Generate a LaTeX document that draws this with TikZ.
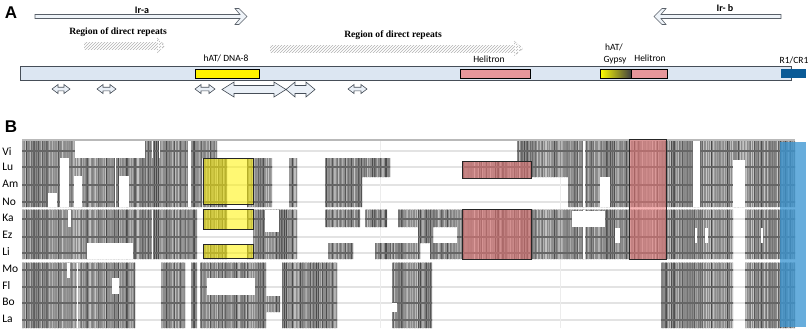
\documentclass[tikz,border=0pt]{standalone}
\usepackage{fontspec}
\setmainfont{Carlito}
\newfontfamily\repfont{Liberation Serif}
\newfontfamily\panelfont{Liberation Sans}
\usetikzlibrary{patterns}
\definecolor{barfill}{RGB}{220,230,242}
\definecolor{barline}{RGB}{70,78,88}
\definecolor{helipink}{RGB}{230,150,155}
\definecolor{helialn}{RGB}{240,120,120}
\definecolor{crblue}{RGB}{10,90,150}
\definecolor{alnblue}{RGB}{60,150,210}
\tikzset{every picture/.style={line width=0.75pt}}

\begin{document}
\begin{tikzpicture}[x=1pt,y=-1pt,
    panel/.style={font=\panelfont\bfseries\fontsize{17}{17}\selectfont, inner sep=0},
    seqlab/.style={anchor=west, font=\fontsize{11.5}{12}\selectfont, inner sep=0},
    telab/.style={font=\fontsize{9.5}{11}\selectfont, inner sep=0},
    replab/.style={font=\repfont\bfseries\fontsize{9.6}{12}\selectfont, inner sep=0},
    irlab/.style={font=\bfseries\fontsize{10}{12}\selectfont, inner sep=0},
    irarrow/.style={draw=barline!90, fill=barfill!45, line width=0.6pt},
    hatcharrow/.style={pattern=north east lines, pattern color=gray!60},
    hatchhead/.style={draw=gray!60, dashed, line width=0.4pt, pattern=north east lines, pattern color=gray!60},
    tebox/.style={draw=black, line width=0.6pt},
    dblarrow/.style={draw=barline, fill=barfill!60, line width=0.6pt},
    rowline/.style={gray!22, line width=1.6pt},
    hole/.style={fill=white, draw=none},
    alnbox/.style={draw=black!85, line width=0.7pt, fill opacity=0.55}]
\useasboundingbox (0,0) rectangle (809,333);

% ---- panel A
\node[panel] (pa) at (11,13) {A};
\node[irlab] (ira) at (142,10) {Ir-a};
\node[irlab] (irb) at (725,8) {Ir- b};
\draw[irarrow] (35,14.5) -- (240,14.5) -- (235,8.5) -- (239,8.5) -- (247,16.5)
    -- (239,24.5) -- (235,24.5) -- (240,18.5) -- (35,18.5) -- cycle;
\draw[irarrow] (781,14.5) -- (661,14.5) -- (666,8.5) -- (662,8.5) -- (654,16.5)
    -- (662,24.5) -- (666,24.5) -- (661,18.5) -- (781,18.5) -- cycle;

\node[replab] (rep1) at (118,32) {Region of direct repeats};
\node[replab] (rep2) at (393,35) {Region of direct repeats};
\fill[hatcharrow] (84,42) rectangle (157,49);
\draw[hatchhead] (157,38) -- (165,45.5) -- (157,53);
\fill[hatcharrow] (270,45) rectangle (514,52);
\draw[hatchhead] (514,41) -- (523,48.5) -- (514,56);

% chromosome bar
\draw[draw=barline, fill=barfill] (20,66) rectangle (791,80);
\draw[tebox, fill=yellow] (195,69) rectangle (259,78);
\draw[tebox, fill=helipink] (460,69) rectangle (530,78);
\shade[left color=yellow, right color=black!75] (600,69) rectangle (631,78);
\draw[tebox] (600,69) rectangle (631,78);
\draw[tebox, fill=helipink] (631,69) rectangle (667,78);
\fill[crblue] (781,69) rectangle (806,78);

\node[telab] (dna8) at (226,58) {hAT/ DNA-8};
\node[telab] (heli1) at (489,59) {Helitron};
\node[telab] (hat) at (614,47) {hAT/};
\node[telab] (gyp) at (615,60) {Gypsy};
\node[telab] (heli2) at (650,58) {Helitron};
\node[telab] (r1) at (794,60) {R1/CR1};

% inverted/direct repeat arrows under the bar
\foreach \xa/\xb/\yc/\hs/\hh/\hl in {52/70/89/1.8/4.5/6, 97/116/89/1.8/4.5/6,
    195/215/89/1.8/4.5/6, 348/367/89/1.8/4.5/6,
    222/286/89.5/4/7.5/12, 286/315/89.5/4/7.5/9}
  \draw[dblarrow] (\xa,\yc) -- (\xa+\hl,\yc-\hh) -- (\xa+\hl,\yc-\hs) -- (\xb-\hl,\yc-\hs)
      -- (\xb-\hl,\yc-\hh) -- (\xb,\yc) -- (\xb-\hl,\yc+\hh) -- (\xb-\hl,\yc+\hs)
      -- (\xa+\hl,\yc+\hs) -- (\xa+\hl,\yc+\hh) -- cycle;

% ---- panel B
\node[panel] (pb) at (11,127) {B};
\foreach \nm/\yy in {Vi/152, Lu/167, Am/184, No/202, Ka/218, Ez/235,
    Li/252, Mo/269, Fl/286, Bo/302, La/319}
  \node[seqlab] (lab\nm) at (2,\yy) {\nm};

\draw[gray!55, line width=2pt] (22,139.5) -- (795,139.5);
\foreach \yy in {151,167,185,202,219,237,253,270,287,303,320}
  \draw[rowline] (22,\yy) -- (795,\yy);
\draw[gray!15] (380,141) -- (380,328) (560,141) -- (560,328);

% aligned blocks
\begin{scope}
\clip \foreach \xa/\ya/\xb/\yb in {
    22/141/202/207, 202/141/217/158, 203/158/227/207, 247/158/272/207,
    289/158/297/207, 325/158/390/177, 325/177/362/207, 462/161/531/178,
    517/141/630/177, 568/177/630/207, 629/141/667/207, 667/141/795/207,
    22/209.5/197/259, 203/209.5/227/229, 247/209.5/253/229,
    203/244/227/259, 247/244/253/259, 253/209.5/297/259,
    325/209.5/360/227, 365/209.5/387/227, 398/209.5/462/227,
    418/227/433/243, 457/227/462/243,
    328/243/353/259, 375/243/420/259, 430/243/462/259,
    462/209.5/531/259, 532/209.5/630/259, 629/209.5/667/259,
    667/209.5/733/259, 745/209.5/795/259,
    22/262.5/135/328, 161/262.5/185/328, 191/262.5/197/328,
    200/262.5/266/328, 266/296/280/312, 282/262.5/337/328,
    392/262.5/432/328, 661/262.5/733/328, 745/262.5/795/328}
  {(\xa,\ya) rectangle (\xb,\yb)};
\fill[black!45] (20,139) rectangle (800,330);
\pgfmathsetseed{42}
\foreach \i in {0,...,485} {
  \pgfmathsetmacro\sx{22+1.6*\i}
  \pgfmathsetmacro\sv{int(22+50*rnd)}
  \draw[black!\sv, line width=0.9pt] (\sx,139) -- (\sx,330);
}
\foreach \yy in {151,167,185,202,219,237,253,270,287,303,320}
  \draw[black!60, line width=1.2pt] (20,\yy) -- (800,\yy);
\end{scope}

% gaps inside the blocks
\foreach \xa/\ya/\xb/\yb in {
    75/141/145/158, 60/158/69/207, 48/193/57/207, 74/176/82/207,
    119/176/129/207, 188/141/191/207, 114.5/141/116/207,
    151.5/141/153/158, 158.5/141/160/158,
    600/177/610/207, 583/141/585/207, 693/141/700/207, 733/160/745/207,
    68/209.5/71/227, 87/243/133/259, 265/209.5/279/232, 151.5/209.5/153/259,
    572/211/605/227, 615/228/620/243, 583/209.5/585/259,
    695/228/697/243, 705/228/708/243, 761/228/763/243,
    67/262.5/70/278, 112/278/119/294, 76.5/262.5/78/328,
    207/278/255/295, 392/303/397/312}
  \fill[hole] (\xa,\ya) rectangle (\xb,\yb);

% highlighted elements
\foreach \xa/\ya/\xb/\yb in {203/158/253/204, 203/209/253/229, 203/244/253/258}
  \draw[alnbox, fill=yellow] (\xa,\ya) rectangle (\xb,\yb);
\foreach \xa/\ya/\xb/\yb in {462/161/531/178, 462/209/531/259, 629/139/666/259}
  \draw[alnbox, fill=helialn] (\xa,\ya) rectangle (\xb,\yb);
\fill[alnblue, fill opacity=0.78] (780,142) rectangle (806,327);
\end{tikzpicture}
\end{document}
